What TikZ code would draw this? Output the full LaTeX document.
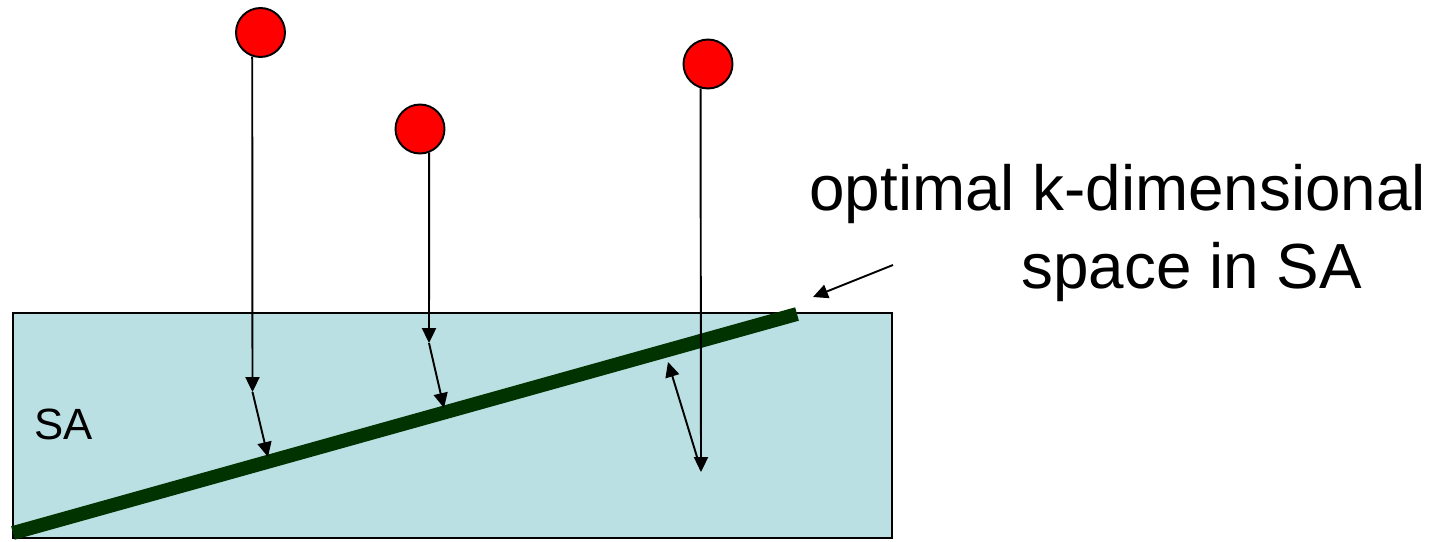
\documentclass[tikz,border=0pt]{standalone}
\usepackage{fontspec}
\setmainfont{Liberation Sans}
\usetikzlibrary{arrows.meta}
\definecolor{sabg}{HTML}{BBE0E3}
\definecolor{subsp}{HTML}{003300}
\definecolor{dotred}{HTML}{FF0000}
\tikzset{
  pt/.style={circle,fill=dotred,draw=black,line width=1.1pt,minimum size=0.98cm,inner sep=0pt},
  proj/.style={draw=black,line width=1.1pt,-{Triangle[length=8.5pt,width=8pt]}},
  lbl/.style={anchor=base west,inner sep=0pt,font=\fontsize{36.3}{40}\selectfont},
}
\begin{document}
\begin{tikzpicture}[x=0.02cm,y=-0.02cm]
\useasboundingbox (0,0) rectangle (1443,541);
% SA region
\draw[fill=sabg,line width=1.4pt] (13,313) rectangle (892,538);
\node[anchor=base west,inner sep=0pt,font=\fontsize{24.9}{28}\selectfont] (sa) at (34,439) {SA};
% subspace line
\coordinate (s0) at (13,533);
\coordinate (s1) at (797,314);
\draw[subsp,line width=7.9pt] (s0) -- (s1);
% points
\node[pt] (c1) at (260.5,32.5) {};
\node[pt] (c2) at (420,129) {};
\node[pt] (c3) at (708,64) {};
\coordinate (p1) at (252.5,392);
\coordinate (q1) at (268,457);
\coordinate (p2) at (429,343);
\coordinate (q2) at (444,408);
\coordinate (p3) at (701,472);
\coordinate (p3b) at (701,470);
\coordinate (q3) at (668,362);
\draw[proj] (c1.251) -- (p1);
\draw[proj] (p1) -- (q1);
\draw[proj] (c2.291.6) -- (p2);
\draw[proj] (p2) -- (q2);
\draw[proj] (c3.253) -- (p3);
\draw[proj] (p3b) -- (q3);
% label
\node[lbl] (l1) at (809,210) {optimal k-dimensional};
\node[lbl] (l2) at (1021,288) {space in SA};
\coordinate (a0) at (893,265);
\coordinate (a1) at (813,297);
\draw[proj] (a0) -- (a1);
\end{tikzpicture}
\end{document}
